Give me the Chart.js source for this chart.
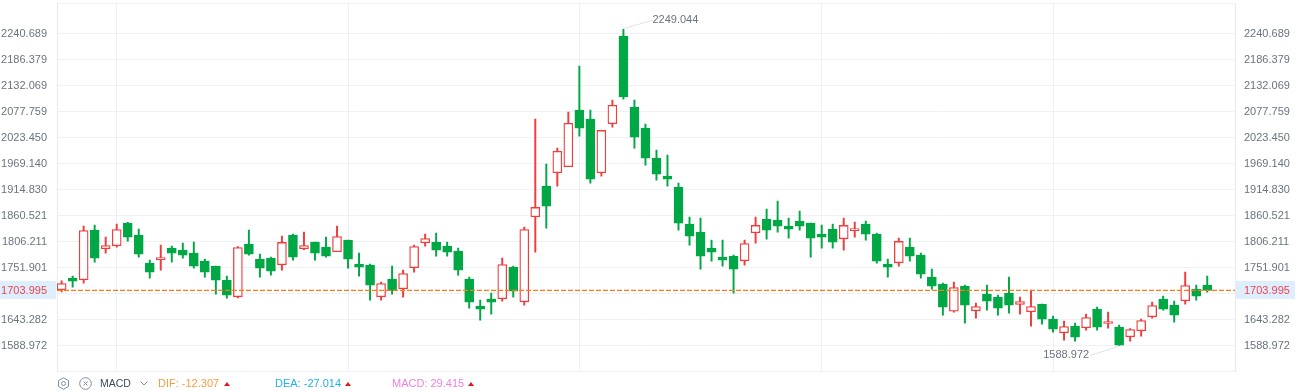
<!DOCTYPE html>
<html>
<head>
<meta charset="utf-8">
<style>
	html, body { margin: 0; padding: 0; background: #fff; overflow: hidden; }
	#wrap { position: relative; width: 1297px; height: 391px; }
	#myChart { display: block; }
	#macdBar span, #macdBar svg, #macdBar i { position: absolute; }
	#macdBar span { top: 377px; font: 11px/13px "Liberation Sans", Arial, sans-serif; white-space: nowrap; }
	#macdBar i { top: 382px; width: 0; height: 0; border-left: 3px solid transparent; border-right: 3px solid transparent; border-bottom: 4px solid #e8141c; }
</style>
</head>
<body>
<div id="wrap">
	<canvas id="myChart" width="1297" height="391"></canvas>
	<div id="macdBar">
		<svg style="left:57px;top:377px" width="13" height="13" viewBox="0 0 13 13" fill="none" stroke="#7f8da3"><path d="M6.5 .7l5 2.9v5.8l-5 2.9-5-2.9V3.600z"/><circle cx="6.500" cy="6.500" r="2"/></svg>
		<svg style="left:79px;top:377px" width="13" height="13" viewBox="0 0 13 13" fill="none" stroke="#7f8da3"><circle cx="6.500" cy="6.500" r="5.800"/><path d="M4.500 4.500l4 4M8.500 4.500l-4 4"/></svg>
		<span style="left:100px;color:#3f4a5c;font-size:10.500px">MACD</span>
		<svg style="left:140px;top:381px" width="8" height="5" viewBox="0 0 8 5" fill="none" stroke="#7f8da3"><path d="M.7 .7L4 4 7.300 .7"/></svg>
		<span style="left:158px;color:#ff9a3c">DIF: -12.307</span><i style="left:224px"></i>
		<span style="left:275px;color:#1fb0ee">DEA: -27.014</span><i style="left:345px"></i>
		<span style="left:392px;color:#f27fe0">MACD: 29.415</span><i style="left:468px"></i>
	</div>
</div>
<script src="https://cdn.jsdelivr.net/npm/chart.js@4/dist/chart.umd.min.js"></script>
<script>
var opens = [1705.2,1729.6,1726.1,1829.8,1790.9,1797.1,1844.5,1819.4,1760.9,1767.9,1792.2,1788.1,1781.8,1765.1,1754.6,1725.4,1690.6,1800.6,1769.3,1771.4,1757.4,1819.4,1790.9,1804.8,1794.3,
	1784.6,1809.0,1758.8,1756.7,1690.6,1727.5,1707.3,1751.2,1803.4,1804.8,1796.4,1786.0,1727.5,1671.1,1685.7,1686.4,1752.6,1680.1,1857.7,1921.8,1949.6,1962.1,2080.5,2061.7,1949.6,
	2052.0,2235.1,2086.8,2042.9,1980.2,1942.6,1919.7,1842.4,1825.7,1792.2,1773.4,1775.5,1765.8,1824.3,1852.8,1850.7,1838.2,1848.6,1844.5,1821.5,1831.9,1811.7,1828.5,1842.4,1821.5,
	1758.8,1761.6,1794.3,1777.6,1731.7,1717.1,1660.7,1712.9,1661.4,1696.2,1689.9,1698.3,1674.6,1659.3,1675.3,1644.0,1615.4,1629.3,1625.9,1664.8,1634.9,1627.2,1607.1,1619.6,1648.8,
	1685.7,1673.2,1682.3,1706.6,1715.0];
var closes = [1718.4,1723.3,1829.1,1771.4,1797.8,1831.2,1815.2,1779.7,1742.1,1772.7,1781.8,1777.6,1754.6,1742.1,1725.4,1694.1,1793.6,1779.7,1750.5,1744.2,1804.1,1773.4,1797.8,1781.8,1775.5,
	1816.6,1769.3,1752.6,1715.0,1718.4,1704.5,1739.3,1795.7,1812.4,1788.1,1783.9,1746.3,1679.4,1664.8,1679.4,1758.1,1702.4,1831.2,1877.2,1880.0,1994.2,2052.7,2042.9,1936.4,2038.0,
	2090.3,2107.7,2024.1,1980.2,1946.8,1936.4,1844.5,1817.3,1775.5,1783.9,1767.2,1748.4,1802.0,1839.6,1829.8,1838.2,1831.9,1838.2,1813.1,1815.2,1804.8,1839.6,1833.3,1821.5,1765.1,
	1752.6,1806.2,1775.5,1737.9,1712.9,1669.0,1710.1,1673.2,1670.4,1681.6,1666.9,1673.2,1680.9,1670.4,1644.0,1623.1,1628.6,1606.4,1647.4,1627.2,1639.1,1589.6,1622.4,1641.2,1672.5,
	1664.8,1652.3,1714.3,1692.0,1703.995];
var highs = [1724.0,1733.8,1838.2,1840.3,1815.2,1842.4,1845.9,1831.9,1767.2,1798.5,1796.4,1802.7,1804.8,1769.3,1754.6,1733.8,1795.7,1829.8,1779.7,1773.4,1817.3,1821.5,1825.7,1804.8,1815.2,
	1838.2,1809.0,1781.8,1758.8,1721.2,1754.6,1746.3,1798.5,1821.5,1823.6,1804.8,1792.2,1731.7,1683.6,1698.2,1771.4,1754.6,1836.1,2061.7,1967.7,2001.1,2076.3,2172.4,2080.5,2038.0,
	2101.4,2249.044,2101.4,2051.3,1997.0,1986.5,1928.0,1857.0,1854.9,1809.0,1809.0,1777.6,1809.0,1857.0,1873.7,1890.4,1854.9,1869.5,1844.5,1840.3,1842.4,1854.9,1846.6,1848.6,1823.6,
	1769.3,1813.1,1813.1,1781.8,1748.4,1719.2,1721.2,1715.0,1677.4,1715.0,1694.1,1731.7,1689.9,1704.5,1675.3,1650.2,1639.8,1635.6,1654.4,1669.0,1658.6,1631.4,1624.5,1644.0,1679.5,
	1692.0,1681.6,1742.1,1715.0,1733.8];
var lows = [1701.0,1710.8,1719.1,1763.0,1781.8,1794.3,1806.9,1773.4,1729.6,1746.3,1763.0,1771.4,1750.5,1731.7,1696.2,1687.8,1688.5,1777.6,1731.7,1735.8,1746.3,1767.2,1788.8,1767.2,1773.4,
	1784.6,1750.5,1733.8,1683.6,1683.6,1696.2,1689.9,1742.1,1796.4,1775.5,1775.5,1735.8,1666.9,1641.8,1654.4,1681.5,1689.9,1673.2,1783.9,1834.0,1921.8,1962.1,2026.2,1928.0,1942.6,
	2045.0,2103.5,2001.1,1965.6,1934.3,1921.8,1829.8,1798.5,1748.4,1765.1,1754.6,1698.2,1756.7,1802.7,1811.0,1825.7,1813.1,1829.8,1773.4,1792.2,1792.2,1788.1,1815.2,1809.0,1760.9,
	1731.7,1754.6,1765.1,1729.6,1706.6,1652.3,1658.6,1635.6,1646.0,1662.8,1652.3,1656.5,1654.4,1629.3,1633.5,1616.8,1600.1,1598.0,1621.0,1621.0,1625.2,1588.972,1598.0,1608.4,1646.0,
	1662.8,1637.7,1675.3,1683.6,1700.4];

var yTicks = [2240.689,2186.379,2132.069,2077.759,2023.450,1969.140,1914.830,1860.521,1806.211,1751.901,1697.592,1643.282,1588.972];
var hiddenTick = 1697.592;
var lastPrice = 1703.995;
var yMin = 1534.662;
var yMax = 2303;
var xMin = -0.42;
var xMax = 106.52;
var xGridTicks = [5,26,47,69,90];

var RED = "#f03c3c";
var GREEN = "#00a845";
var GRID = "#eff1f5";
var TICK_COLOR = "#6b7380";
var FONT = "Liberation Sans";

function fixTicks(scale) {
	scale.ticks = [yMax].concat(yTicks).concat([lastPrice, yMin]).map(function(v) {
		return { value: v };
	});
}

function tickLabel(value) {
	if (value == yMax || value == yMin || value == hiddenTick) {
		return "";
	}
	return value.toFixed(3);
}

var wickData = highs.map(function(h, i) { return { x: i, y: [lows[i], h] }; });
var bodyData = opens.map(function(o, i) { return { x: i, y: [o, closes[i]] }; });

function isUp(ctx) {
	return closes[ctx.dataIndex] >= opens[ctx.dataIndex];
}

// price tags on both axes and the max/min notes
var pricePlugin = {
	id: "pricePlugin",
	beforeDatasetsDraw: function(chart) {
		var c = chart.ctx;
		var y = chart.scales.y.getPixelForValue(lastPrice);
		c.save();
		c.fillStyle = "#dfeefd";
		c.fillRect(0, y - 9.500, chart.chartArea.left - 1, 18);
		c.fillRect(chart.chartArea.right + 1, y - 9.500, 59, 18);
		c.restore();
		drawPriceText(chart, y + 0.5);
	},
	afterDatasetsDraw: function(chart) {
		var x = chart.scales.x;
		var y = chart.scales.y;
		var c = chart.ctx;
		var hiIdx = highs.indexOf(Math.max.apply(null, highs));
		var loIdx = lows.indexOf(Math.min.apply(null, lows));
		var hx = x.getPixelForValue(hiIdx);
		var hy = y.getPixelForValue(highs[hiIdx]);
		var lx = x.getPixelForValue(loIdx);
		var ly = y.getPixelForValue(lows[loIdx]);
		c.save();
		c.strokeStyle = "#dfe4ea";
		c.lineWidth = 1;
		c.beginPath();
		c.moveTo(hx + 1, hy - 1);
		c.lineTo(hx + 29, hy - 9);
		c.moveTo(lx - 1, ly + 1);
		c.lineTo(lx - 29, ly + 10);
		c.stroke();
		c.font = "11px '" + FONT + "'";
		c.fillStyle = TICK_COLOR;
		c.textBaseline = "middle";
		c.textAlign = "left";
		c.fillText(highs[hiIdx].toFixed(3), hx + 29, hy - 9.5);
		c.textAlign = "right";
		c.fillText(lows[loIdx].toFixed(3), lx - 30, ly + 9.5);
		c.restore();
	}
};

function drawPriceText(chart, y) {
	var c = chart.ctx;
	c.save();
	c.font = "11px '" + FONT + "'";
	c.fillStyle = "#f0424f";
	c.textBaseline = "middle";
	c.textAlign = "right";
	c.fillText(lastPrice.toFixed(3), chart.chartArea.left - 10, y);
	c.textAlign = "left";
	c.fillText(lastPrice.toFixed(3), chart.chartArea.right + 9, y);
	c.restore();
}

function priceAxis(position, showGrid) {
	return {
		type: "linear",
		position: position,
		min: yMin,
		max: yMax,
		afterBuildTicks: fixTicks,
		afterFit: function(scale) {
			scale.width = position == "left" ? 57 : 62;
			scale.paddingTop = 0;
			scale.paddingBottom = 0;
		},
		border: { display: true, color: "#e6ebf2" },
		grid: {
			display: showGrid,
			drawTicks: false,
			color: function(ctx) {
				return ctx.tick && ctx.tick.value == lastPrice ? "rgba(0,0,0,0)" : GRID;
			}
		},
		ticks: {
			autoSkip: false,
			padding: position == "left" ? 10 : 9,
			labelOffset: 0.5,
			color: TICK_COLOR,
			font: { family: FONT, size: 11 },
			callback: function(value) {
				return value == lastPrice ? "" : tickLabel(value);
			}
		}
	};
}

new Chart(document.getElementById("myChart"), {
	type: "bar",
	data: {
		datasets: [
			{
				type: "line",
				data: [{ x: xMin, y: lastPrice }, { x: xMax, y: lastPrice }],
				borderColor: "#ff7a14",
				borderWidth: 1.3,
				borderDash: [5, 2],
				pointRadius: 0,
				order: 0
			},
			{
				data: bodyData,
				barThickness: 9,
				grouped: false,
				borderSkipped: false,
				borderWidth: 1.3,
				backgroundColor: function(ctx) { return isUp(ctx) ? "#ffffff" : GREEN; },
				borderColor: function(ctx) { return isUp(ctx) ? RED : GREEN; },
				order: 1
			},
			{
				data: wickData,
				barThickness: 1.3,
				grouped: false,
				borderSkipped: false,
				borderWidth: 0,
				backgroundColor: function(ctx) { return isUp(ctx) ? RED : GREEN; },
				order: 2
			}
		]
	},
	options: {
		responsive: false,
		animation: false,
		layout: { padding: { top: 3.5, bottom: 19.5, left: 0, right: 0 } },
		plugins: {
			legend: { display: false },
			tooltip: { enabled: false }
		},
		scales: {
			x: {
				type: "linear",
				offset: false,
				min: xMin,
				max: xMax,
				afterBuildTicks: function(scale) {
					scale.ticks = xGridTicks.map(function(v) { return { value: v }; });
				},
				border: { display: false },
				grid: { color: "#ecf1f7", drawTicks: false, offset: false },
				ticks: { display: false }
			},
			y: priceAxis("left", true),
			y1: priceAxis("right", false)
		}
	},
	plugins: [pricePlugin]
});
</script>
</body>
</html>
